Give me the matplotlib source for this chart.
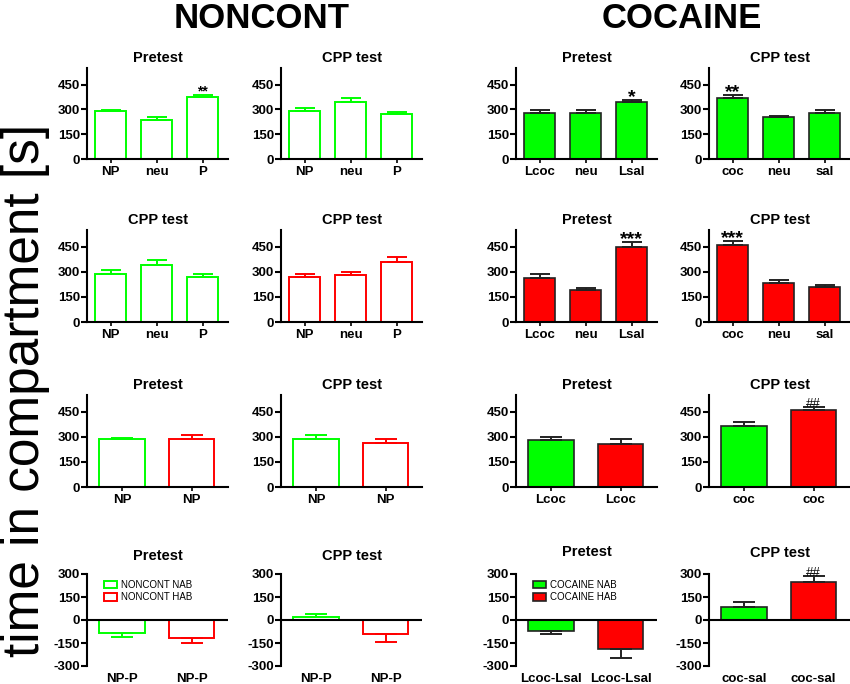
import matplotlib
matplotlib.use("Agg")
import matplotlib.pyplot as plt
from matplotlib.patches import Patch

plt.rcParams["font.family"] = ["Liberation Sans", "DejaVu Sans"]
plt.rcParams["axes.unicode_minus"] = False

GREEN = "#00ff00"
RED = "#ff0000"

# --- data (seconds, mean and SEM) ---
labels_np3 = ["NP", "neu", "P"]
labels_lcoc3 = ["Lcoc", "neu", "Lsal"]
labels_coc3 = ["coc", "neu", "sal"]

nc_nab_pre = [288, 238, 373]
nc_nab_pre_err = [9, 14, 16]
nc_nab_cpp = [288, 343, 270]
nc_nab_cpp_err = [20, 25, 17]
coc_nab_pre = [278, 278, 343]
coc_nab_pre_err = [18, 16, 14]
coc_nab_cpp = [369, 252, 280]
coc_nab_cpp_err = [18, 8, 16]

nc_hab_cpp = [268, 280, 356]
nc_hab_cpp_err = [20, 16, 30]
coc_hab_pre = [264, 192, 446]
coc_hab_pre_err = [24, 12, 34]
coc_hab_cpp = [462, 236, 210]
coc_hab_cpp_err = [20, 16, 12]

np_pre = [288, 288]
np_pre_err = [6, 20]
np_cpp = [288, 266]
np_cpp_err = [20, 22]
lcoc_pre = [278, 260]
lcoc_pre_err = [18, 26]
coc_cpp = [366, 458]
coc_cpp_err = [20, 22]

diff_nc_pre = [-88, -120]
diff_nc_pre_err = [21, 33]
diff_nc_cpp = [18, -92]
diff_nc_cpp_err = [24, 50]
diff_coc_pre = [-70, -188]
diff_coc_pre_err = [22, 59]
diff_coc_cpp = [85, 250]
diff_coc_cpp_err = [35, 35]

fig = plt.figure(figsize=(8.5, 6.84), dpi=100)
W, H = 850.0, 684.0
col_x = [87, 281, 516, 709]
col_w = 141
rows_px = [(68, 159), (230, 322), (395, 487), (574, 666)]


def make_ax(r, c):
    top, bot = rows_px[r]
    return fig.add_axes([col_x[c] / W, 1 - bot / H, col_w / W, (bot - top) / H])


def draw_panel(ax, labels, vals, errs, colors, filled, title, diff=False,
               marks=None, title_pad=4.5):
    n = len(vals)
    x = list(range(n))
    if n == 3:
        width, xlim, cap = 0.67, (-0.51, 2.55), 7
    else:
        width, xlim, cap = 0.65, (-0.5, 1.52), 8
    for i in range(n):
        if filled:
            ax.bar(x[i], vals[i], width, color=colors[i], edgecolor="#222222",
                   linewidth=1.2, zorder=2)
            ecol = "#222222"
        else:
            ax.bar(x[i], vals[i], width, color="white", edgecolor=colors[i],
                   linewidth=1.4, zorder=2)
            ecol = colors[i]
        yerr = [[0], [errs[i]]] if vals[i] >= 0 else [[errs[i]], [0]]
        ax.errorbar(x[i], vals[i], yerr=yerr, fmt="none", ecolor=ecol,
                    elinewidth=1.4, capsize=cap, capthick=1.4, zorder=3)
    ax.set_xlim(*xlim)
    ax.set_xticks(x)
    ax.set_xticklabels(labels)
    if diff:
        ax.set_ylim(-300, 300)
        ax.set_yticks([-300, -150, 0, 150, 300])
        ax.spines["bottom"].set_visible(False)
        ax.axhline(0, color="black", linewidth=1.5, zorder=4)
        ax.tick_params(axis="x", length=0, pad=5)
    else:
        ax.set_ylim(0, 550)
        ax.set_yticks([0, 150, 300, 450])
        ax.tick_params(axis="x", length=3, width=1.2, pad=2)
    ax.tick_params(axis="y", length=4, width=1.5, pad=1)
    for lab in ax.get_xticklabels() + ax.get_yticklabels():
        lab.set_fontweight("bold")
        lab.set_fontsize(9.5)
    ax.spines["top"].set_visible(False)
    ax.spines["right"].set_visible(False)
    ax.spines["left"].set_linewidth(1.5)
    ax.spines["bottom"].set_linewidth(1.5)
    ax.set_title(title, fontsize=10.5, fontweight="bold", pad=title_pad)
    if marks:
        for i, s, size, off in marks:
            ax.annotate(s, (x[i], vals[i] + errs[i]), xytext=(0, off),
                        textcoords="offset points", ha="center", va="baseline",
                        fontsize=size, fontweight="bold" if "*" in s else "normal")


# row 1: NAB groups
draw_panel(make_ax(0, 0), labels_np3, nc_nab_pre, nc_nab_pre_err, [GREEN] * 3,
           False, "Pretest", marks=[(2, "**", 10, -0.5)])
draw_panel(make_ax(0, 1), labels_np3, nc_nab_cpp, nc_nab_cpp_err, [GREEN] * 3,
           False, "CPP test")
draw_panel(make_ax(0, 2), labels_lcoc3, coc_nab_pre, coc_nab_pre_err, [GREEN] * 3,
           True, "Pretest", marks=[(2, "*", 14, -1.5)])
draw_panel(make_ax(0, 3), labels_coc3, coc_nab_cpp, coc_nab_cpp_err, [GREEN] * 3,
           True, "CPP test", marks=[(0, "**", 14, -1.5)])

# row 2
draw_panel(make_ax(1, 0), labels_np3, nc_nab_cpp, nc_nab_cpp_err, [GREEN] * 3,
           False, "CPP test")
draw_panel(make_ax(1, 1), labels_np3, nc_hab_cpp, nc_hab_cpp_err, [RED] * 3,
           False, "CPP test")
draw_panel(make_ax(1, 2), labels_lcoc3, coc_hab_pre, coc_hab_pre_err, [RED] * 3,
           True, "Pretest", marks=[(2, "***", 14, -1.5)])
draw_panel(make_ax(1, 3), labels_coc3, coc_hab_cpp, coc_hab_cpp_err, [RED] * 3,
           True, "CPP test", marks=[(0, "***", 14, -1.5)])

# row 3: NAB vs HAB
draw_panel(make_ax(2, 0), ["NP", "NP"], np_pre, np_pre_err, [GREEN, RED],
           False, "Pretest")
draw_panel(make_ax(2, 1), ["NP", "NP"], np_cpp, np_cpp_err, [GREEN, RED],
           False, "CPP test")
draw_panel(make_ax(2, 2), ["Lcoc", "Lcoc"], lcoc_pre, lcoc_pre_err, [GREEN, RED],
           True, "Pretest")
draw_panel(make_ax(2, 3), ["coc", "coc"], coc_cpp, coc_cpp_err, [GREEN, RED],
           True, "CPP test", marks=[(1, "##", 9.5, 0)])

# row 4: differences
ax = make_ax(3, 0)
draw_panel(ax, ["NP-P", "NP-P"], diff_nc_pre, diff_nc_pre_err, [GREEN, RED],
           False, "Pretest", diff=True, title_pad=10)
ax.legend(handles=[Patch(facecolor="white", edgecolor=GREEN, linewidth=1.4, label="NONCONT NAB"),
                   Patch(facecolor="white", edgecolor=RED, linewidth=1.4, label="NONCONT HAB")],
          loc="upper left", bbox_to_anchor=(0.08, 1.0), frameon=False, fontsize=7,
          handlelength=1.3, handleheight=0.8, handletextpad=0.4, labelspacing=0.25,
          borderaxespad=0.2)
draw_panel(make_ax(3, 1), ["NP-P", "NP-P"], diff_nc_cpp, diff_nc_cpp_err, [GREEN, RED],
           False, "CPP test", diff=True, title_pad=10)
ax = make_ax(3, 2)
draw_panel(ax, ["Lcoc-Lsal", "Lcoc-Lsal"], diff_coc_pre, diff_coc_pre_err, [GREEN, RED],
           True, "Pretest", diff=True, title_pad=13)
ax.legend(handles=[Patch(facecolor=GREEN, edgecolor="#222222", linewidth=1.2, label="COCAINE NAB"),
                   Patch(facecolor=RED, edgecolor="#222222", linewidth=1.2, label="COCAINE HAB")],
          loc="upper left", bbox_to_anchor=(0.08, 1.0), frameon=False, fontsize=7,
          handlelength=1.3, handleheight=0.8, handletextpad=0.4, labelspacing=0.25,
          borderaxespad=0.2)
draw_panel(make_ax(3, 3), ["coc-sal", "coc-sal"], diff_coc_cpp, diff_coc_cpp_err, [GREEN, RED],
           True, "CPP test", diff=True, title_pad=12, marks=[(1, "##", 9.5, 0)])

# headers and shared y label
fig.text(262 / W, 1 - 19 / H, "NONCONT", fontsize=25, fontweight="bold",
         ha="center", va="center")
fig.text(682 / W, 1 - 19 / H, "COCAINE", fontsize=25, fontweight="bold",
         ha="center", va="center")
fig.text(26 / W, 1 - 390 / H, "time in compartment [s]", fontsize=37,
         rotation=90, ha="center", va="center")

fig.savefig("out.png", dpi=100)
